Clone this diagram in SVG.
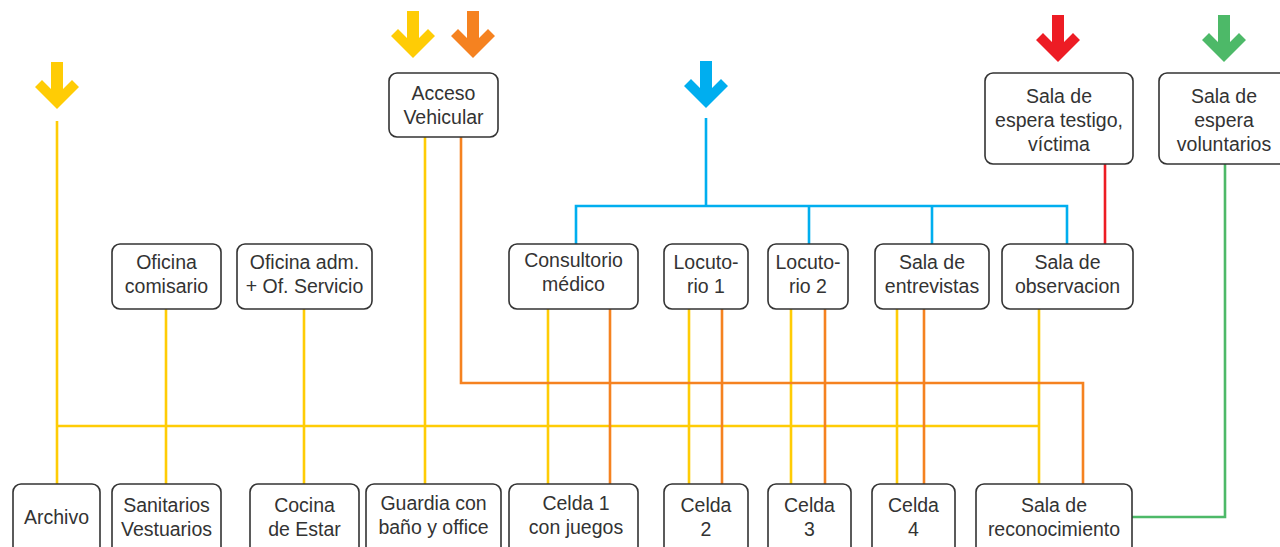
<svg xmlns="http://www.w3.org/2000/svg" xmlns:xlink="http://www.w3.org/1999/xlink" width="1280" height="547" viewBox="0 0 1280 547">
<style>
.box{fill:#fff;stroke:#333;stroke-width:1.6}
.t{font-family:"Liberation Sans",Arial,sans-serif;font-size:19.5px;fill:#333;text-anchor:middle}
.y{stroke:#FFCC05;stroke-width:2.6;fill:none}
.o{stroke:#F58220;stroke-width:2.6;fill:none}
.b{stroke:#00AEEF;stroke-width:2.6;fill:none}
.r{stroke:#ED1C24;stroke-width:2.6;fill:none}
.g{stroke:#4DB968;stroke-width:2.6;fill:none}
</style>
<defs>
<polygon id="arr" points="-6,-47 6,-47 6,-20 15,-29 22,-22 0,0 -22,-22 -15,-29 -6,-20"/>
</defs>
<rect width="1280" height="547" fill="#fff"/>
<g id="connectors">
<path class="y" d="M57 121V484M57 426H1039M166 309V484M304 309V484M425 137V484M548 309V484M689 309V484M791 309V484M897 309V484M1039 309V484"/>
<path class="o" d="M461 137V383H1083V484M610 309V484M722 309V484M825 309V484M924 309V484"/>
<path class="b" d="M706 118V206M576 244V206H1067V244M809 206V244M932 206V244"/>
<path class="r" d="M1105 164V244"/>
<path class="g" d="M1225 164V517H1132"/>
</g>
<g id="arrows">
<use xlink:href="#arr" x="57" y="109" fill="#FFCC05"/>
<use xlink:href="#arr" x="413" y="58" fill="#FFCC05"/>
<use xlink:href="#arr" x="473" y="58" fill="#F58220"/>
<use xlink:href="#arr" x="706" y="108" fill="#00AEEF"/>
<use xlink:href="#arr" x="1058" y="62" fill="#ED1C24"/>
<use xlink:href="#arr" x="1224" y="62" fill="#4DB968"/>
</g>
<g id="acceso"><rect class="box" x="389" y="73" width="109" height="64" rx="8"/><text class="t" x="443.5" y="100">Acceso</text><text class="t" x="443.5" y="124">Vehicular</text></g>
<g id="testigo"><rect class="box" x="985" y="73" width="148" height="91" rx="8"/><text class="t" x="1059" y="103">Sala de</text><text class="t" x="1059" y="127">espera testigo,</text><text class="t" x="1059" y="151">víctima</text></g>
<g id="voluntarios"><rect class="box" x="1159" y="73" width="131" height="91" rx="8"/><text class="t" x="1224" y="103">Sala de</text><text class="t" x="1224" y="127">espera</text><text class="t" x="1224" y="151">voluntarios</text></g>
<g id="comisario"><rect class="box" x="112" y="244" width="109" height="65" rx="8"/><text class="t" x="166.5" y="269">Oficina</text><text class="t" x="166.5" y="293">comisario</text></g>
<g id="ofadm"><rect class="box" x="237" y="244" width="135" height="65" rx="8"/><text class="t" x="304.5" y="269">Oficina adm.</text><text class="t" x="304.5" y="293">+ Of. Servicio</text></g>
<g id="consultorio"><rect class="box" x="509" y="244" width="129" height="65" rx="8"/><text class="t" x="573.5" y="267">Consultorio</text><text class="t" x="573.5" y="291">médico</text></g>
<g id="locutorio1"><rect class="box" x="664" y="244" width="84" height="65" rx="8"/><text class="t" x="706" y="269">Locuto-</text><text class="t" x="706" y="293">rio 1</text></g>
<g id="locutorio2"><rect class="box" x="768" y="244" width="80" height="65" rx="8"/><text class="t" x="808" y="269">Locuto-</text><text class="t" x="808" y="293">rio 2</text></g>
<g id="entrevistas"><rect class="box" x="875" y="244" width="114" height="65" rx="8"/><text class="t" x="932" y="269">Sala de</text><text class="t" x="932" y="293">entrevistas</text></g>
<g id="observacion"><rect class="box" x="1002" y="244" width="131" height="65" rx="8"/><text class="t" x="1067.5" y="269">Sala de</text><text class="t" x="1067.5" y="293">observacion</text></g>
<g id="archivo"><rect class="box" x="13" y="484" width="87" height="75" rx="8"/><text class="t" x="56.5" y="524">Archivo</text></g>
<g id="sanitarios"><rect class="box" x="112" y="484" width="109" height="75" rx="8"/><text class="t" x="166.5" y="512">Sanitarios</text><text class="t" x="166.5" y="536">Vestuarios</text></g>
<g id="cocina"><rect class="box" x="250" y="484" width="109" height="75" rx="8"/><text class="t" x="304.5" y="512">Cocina</text><text class="t" x="304.5" y="536">de Estar</text></g>
<g id="guardia"><rect class="box" x="366" y="484" width="135" height="75" rx="8"/><text class="t" x="433.5" y="510">Guardia con</text><text class="t" x="433.5" y="534">baño y office</text></g>
<g id="celda1"><rect class="box" x="509" y="484" width="129" height="75" rx="8"/><text class="t" x="576" y="510">Celda 1</text><text class="t" x="576" y="534">con juegos</text></g>
<g id="celda2"><rect class="box" x="664" y="484" width="84" height="75" rx="8"/><text class="t" x="706" y="512">Celda</text><text class="t" x="706" y="536">2</text></g>
<g id="celda3"><rect class="box" x="768" y="484" width="83" height="75" rx="8"/><text class="t" x="809.5" y="512">Celda</text><text class="t" x="809.5" y="536">3</text></g>
<g id="celda4"><rect class="box" x="872" y="484" width="83" height="75" rx="8"/><text class="t" x="913.5" y="512">Celda</text><text class="t" x="913.5" y="536">4</text></g>
<g id="reconocimiento"><rect class="box" x="976" y="484" width="156" height="75" rx="8"/><text class="t" x="1054" y="512">Sala de</text><text class="t" x="1054" y="536">reconocimiento</text></g>
</svg>
